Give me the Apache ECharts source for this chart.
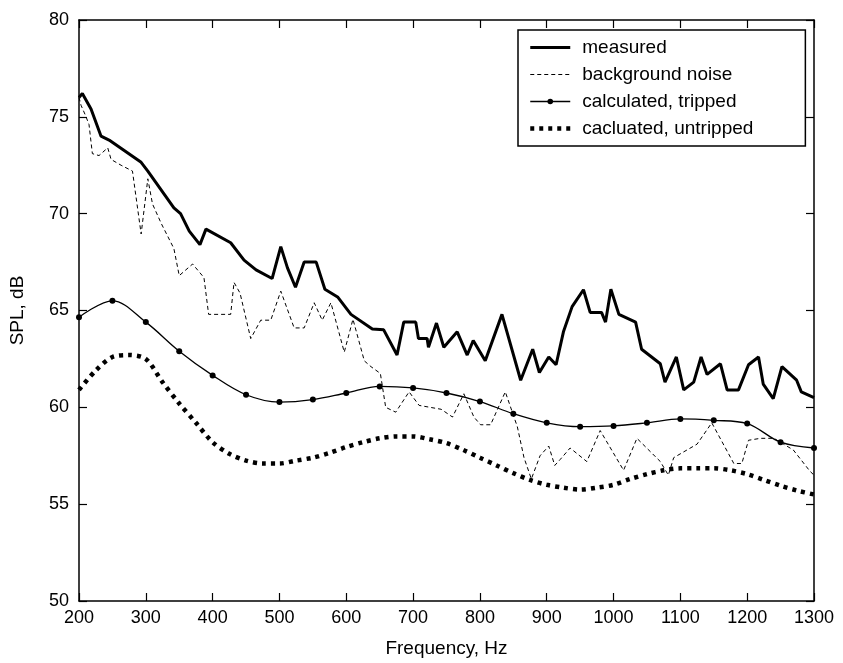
<!DOCTYPE html>
<html>
<head>
<meta charset="utf-8">
<script src="https://cdn.jsdelivr.net/npm/echarts@6/dist/echarts.min.js"></script>
<style>html,body{margin:0;padding:0;background:#fff}#c{width:843px;height:663px}</style>
</head>
<body>
<div id="c"></div>
<script>
// ---- data ----
const xTicks = [200, 300, 400, 500, 600, 700, 800, 900, 1000, 1100, 1200, 1300];
const yTicks = [50, 55, 60, 65, 70, 75, 80];
const seriesNames = ['measured', 'background noise', 'calculated, tripped', 'cacluated, untripped'];

const measuredFreq = [200,205,218,233,245,293,303,342,352,365,381,390,427,447,465,489,502,512,524,537,555,568,587,607,639,656,676,686,704,708,721,723,735,746,766,781,790,808,833,861,879,889,903,914,925,938,955,965,982,988,996,1008,1033,1042,1070,1077,1094,1105,1120,1131,1140,1160,1170,1187,1202,1217,1224,1239,1252,1274,1281,1300];
const measuredSPL = [76.0,76.2,75.4,74.0,73.8,72.65,72.2,70.3,70.0,69.1,68.4,69.2,68.5,67.6,67.1,66.65,68.3,67.2,66.2,67.5,67.5,66.1,65.7,64.8,64.05,64.0,62.7,64.4,64.4,63.55,63.55,63.1,64.35,63.1,63.9,62.7,63.45,62.4,64.8,61.4,63.0,61.8,62.6,62.2,63.9,65.2,66.07,64.9,64.9,64.4,66.1,64.8,64.4,63.0,62.25,61.3,62.6,60.9,61.3,62.6,61.7,62.25,60.9,60.9,62.2,62.6,61.2,60.45,62.1,61.4,60.8,60.5];

const noiseFreq = [200,203,210,215,220,230,243,248,263,280,293,303,310,323,342,350,370,387,394,427,432,441,457,472,487,502,522,537,552,564,577,597,610,627,637,651,659,674,694,709,742,759,776,791,801,816,838,856,866,877,890,903,912,920,935,960,980,1015,1035,1070,1082,1090,1125,1147,1180,1192,1202,1220,1240,1269,1294,1300];
const noiseSPL = [76.0,75.6,75.05,74.6,73.1,73.0,73.4,72.8,72.5,72.2,68.95,71.8,70.5,69.5,68.2,66.8,67.4,66.7,64.8,64.8,66.45,65.9,63.55,64.5,64.5,66.0,64.1,64.1,65.4,64.5,65.4,62.85,64.55,62.4,62.1,61.75,60.0,59.75,60.8,60.1,59.9,59.5,60.7,59.5,59.1,59.1,60.8,59.0,57.4,56.3,57.5,58.0,57.0,57.3,57.9,57.2,58.8,56.75,58.4,57.2,56.5,57.4,58.1,59.2,57.1,57.1,58.3,58.4,58.4,57.8,56.7,56.5];

const trippedFreq = [200,250,300,350,400,450,500,550,600,650,700,750,800,850,900,950,1000,1050,1100,1150,1200,1250,1300];
const trippedSPL = [64.65,65.5,64.4,62.9,61.65,60.65,60.27,60.4,60.74,61.08,61.0,60.74,60.3,59.67,59.2,59.0,59.04,59.2,59.4,59.33,59.16,58.2,57.9];

const untrippedFreq = [200,225,250,275,300,325,350,375,400,425,450,475,500,525,550,575,600,625,650,675,700,725,750,775,800,825,850,875,900,925,950,975,1000,1025,1050,1075,1100,1125,1150,1175,1200,1225,1250,1275,1300];
const untrippedSPL = [60.9,61.9,62.6,62.7,62.5,61.3,60.2,59.2,58.2,57.6,57.25,57.1,57.1,57.25,57.4,57.65,57.95,58.2,58.4,58.5,58.5,58.35,58.15,57.8,57.4,57.0,56.6,56.25,56.0,55.85,55.75,55.85,56.0,56.3,56.55,56.75,56.85,56.85,56.85,56.75,56.55,56.25,55.95,55.7,55.5];

const zip = (a, b) => a.map((v, i) => [v, b[i]]);
const FONT = '"Liberation Sans", Arial, Helvetica, sans-serif';

const chart = echarts.init(document.getElementById('c'), null, {renderer: 'canvas'});
const axisLine = {show: true, onZero: false, lineStyle: {color: '#000', width: 1.5}};
const axisTick = {show: true, inside: true, length: 8, lineStyle: {color: '#000', width: 1.2}};
const noDot = {color: 'rgba(0,0,0,0)', borderWidth: 0};

const styleMeasured = {color: '#000', width: 3};
const styleNoise = {color: '#000', width: 1, type: [4, 3]};
const styleTripped = {color: '#000', width: 1.3};
const styleUntripped = {color: '#000', width: 4.5, type: [4, 5], cap: 'butt'};

chart.setOption({
  backgroundColor: '#fff',
  animation: false,
  grid: {left: 78, right: 29, top: 20, bottom: 61, containLabel: false},
  legend: {
    orient: 'vertical',
    left: 518, top: 30,
    data: [
      {name: seriesNames[0], itemStyle: noDot, lineStyle: styleMeasured},
      {name: seriesNames[1], itemStyle: noDot, lineStyle: styleNoise},
      {name: seriesNames[2], lineStyle: styleTripped},
      {name: seriesNames[3], itemStyle: noDot, lineStyle: styleUntripped}
    ],
    itemWidth: 40, itemHeight: 7, itemGap: 8,
    padding: [8, 52, 8, 10],
    borderColor: '#000', borderWidth: 1.5,
    backgroundColor: '#fff',
    textStyle: {fontFamily: FONT, fontSize: 19, color: '#000', padding: [0, 0, 0, 7]}
  },
  xAxis: [{
    type: 'value', min: 200, max: 1300, interval: 100,
    name: 'Frequency, Hz', nameLocation: 'middle', nameGap: 38,
    nameTextStyle: {fontFamily: FONT, fontSize: 19, color: '#000'},
    axisLine, axisTick, splitLine: {show: false},
    axisLabel: {fontFamily: FONT, fontSize: 18, color: '#000', margin: 8,
      formatter: v => xTicks.includes(v) ? String(v) : ''}
  }, {
    type: 'value', min: 200, max: 1300, interval: 100, position: 'top',
    axisLine, axisTick, splitLine: {show: false}, axisLabel: {show: false}
  }],
  yAxis: [{
    type: 'value', min: 50, max: 80, interval: 5,
    name: 'SPL, dB', nameLocation: 'middle', nameGap: 52, nameRotate: 90,
    nameTextStyle: {fontFamily: FONT, fontSize: 19, color: '#000'},
    axisLine, axisTick, splitLine: {show: false},
    axisLabel: {fontFamily: FONT, fontSize: 18, color: '#000', margin: 10,
      formatter: v => yTicks.includes(v) ? String(v) : ''}
  }, {
    type: 'value', min: 50, max: 80, interval: 5, position: 'right',
    axisLine, axisTick, splitLine: {show: false}, axisLabel: {show: false}
  }],
  series: [
    {name: seriesNames[0], type: 'line', data: zip(measuredFreq, measuredSPL),
      symbol: 'none', lineStyle: styleMeasured, itemStyle: {color: '#000'}, z: 5},
    {name: seriesNames[1], type: 'line', data: zip(noiseFreq, noiseSPL),
      symbol: 'none', lineStyle: styleNoise, itemStyle: {color: '#000'}, z: 4},
    {name: seriesNames[2], type: 'line', data: zip(trippedFreq, trippedSPL), smooth: 0.35,
      symbol: 'circle', symbolSize: 6, showSymbol: true,
      lineStyle: styleTripped, itemStyle: {color: '#000'}, z: 3},
    {name: seriesNames[3], type: 'line', data: zip(untrippedFreq, untrippedSPL), smooth: 0.3,
      symbol: 'none', lineStyle: styleUntripped, itemStyle: {color: '#000'}, z: 2}
  ]
});
</script>
</body>
</html>
